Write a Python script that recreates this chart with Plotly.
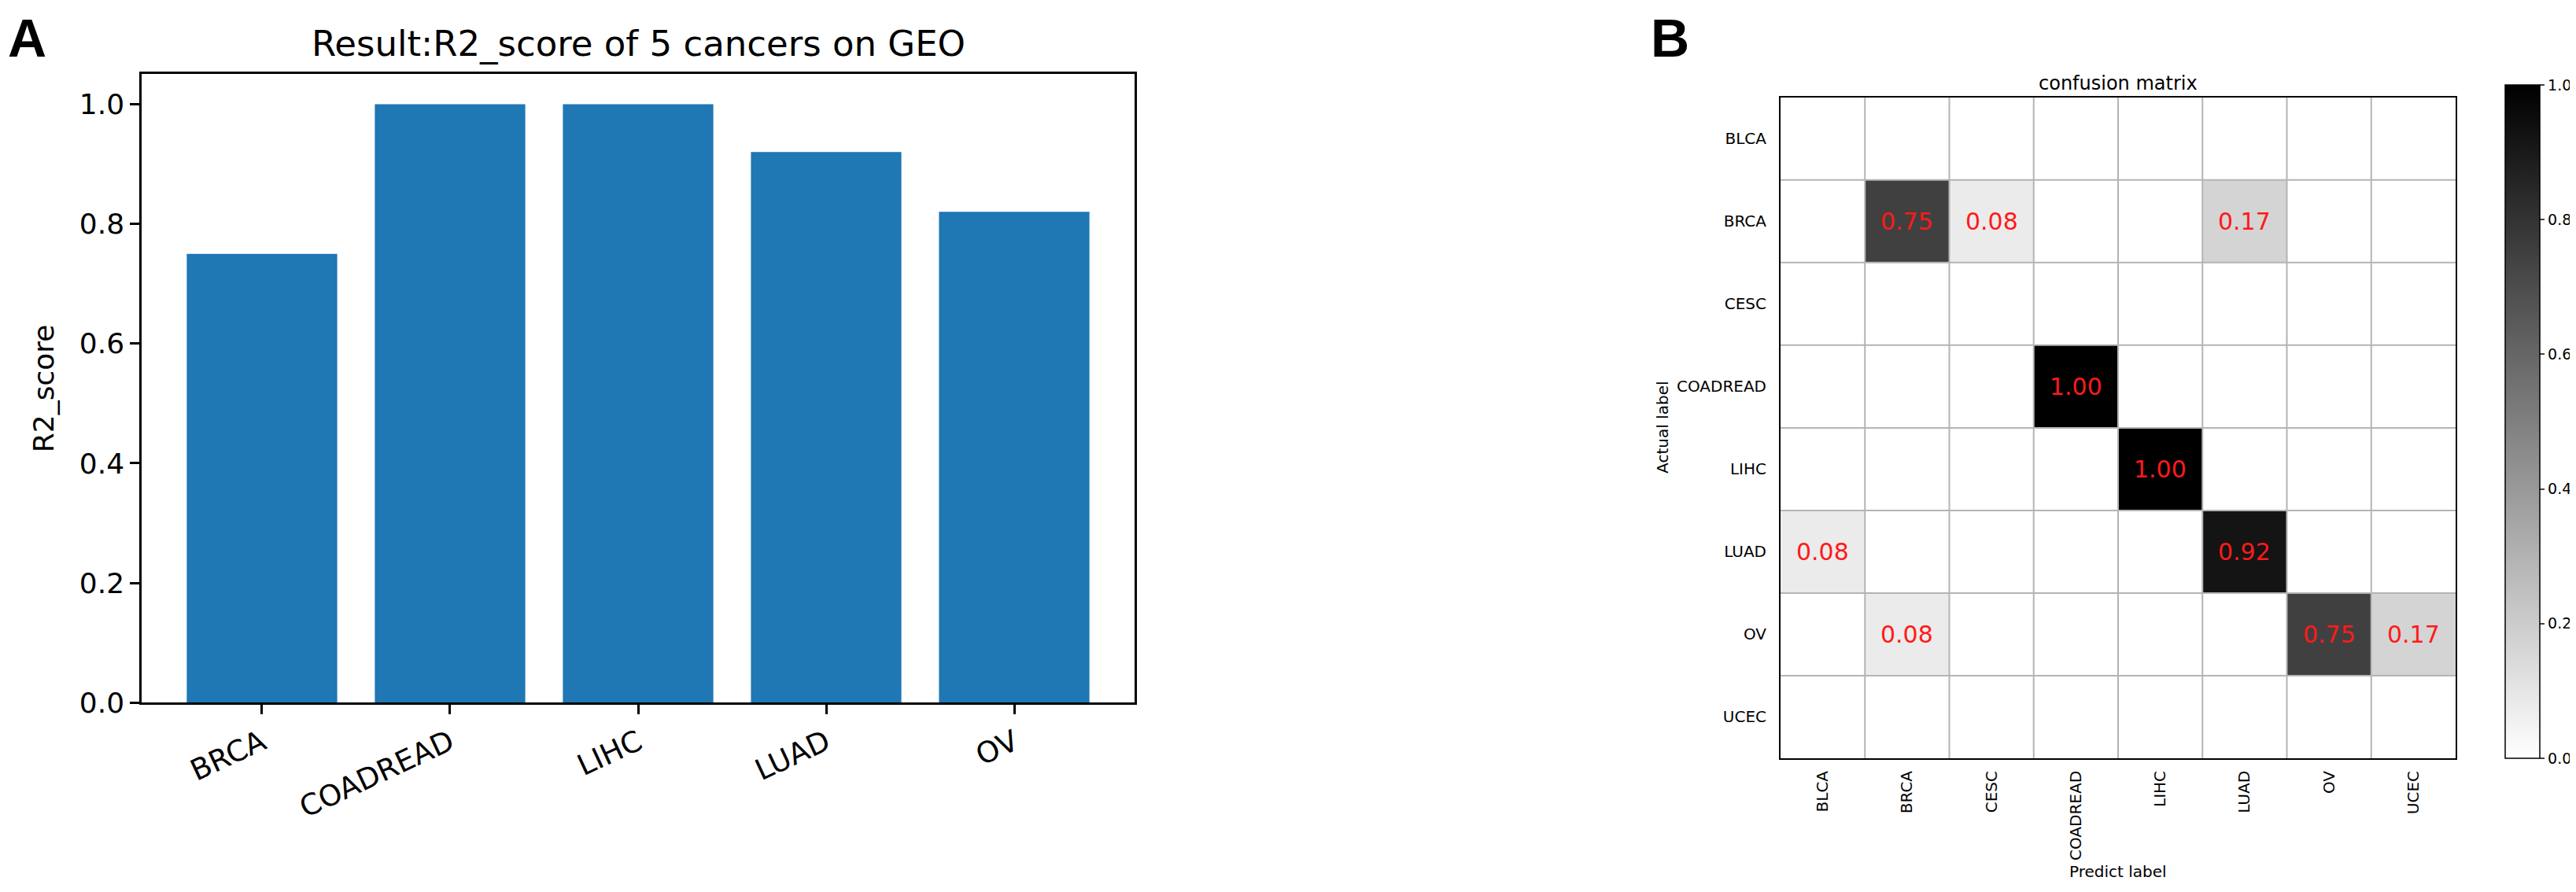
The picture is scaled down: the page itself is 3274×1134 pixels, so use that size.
import plotly.graph_objects as go

# panel A data
cancers = ["BRCA", "COADREAD", "LIHC", "LUAD", "OV"]
r2_scores = [0.75, 1.00, 1.00, 0.92, 0.82]

# panel B data (rows = actual, cols = predicted)
labels = ["BLCA", "BRCA", "CESC", "COADREAD", "LIHC", "LUAD", "OV", "UCEC"]
row_blca = [0, 0, 0, 0, 0, 0, 0, 0]
row_brca = [0, 0.75, 0.08, 0, 0, 0.17, 0, 0]
row_cesc = [0, 0, 0, 0, 0, 0, 0, 0]
row_coadread = [0, 0, 0, 1.00, 0, 0, 0, 0]
row_lihc = [0, 0, 0, 0, 1.00, 0, 0, 0]
row_luad = [0.08, 0, 0, 0, 0, 0.92, 0, 0]
row_ov = [0, 0.08, 0, 0, 0, 0, 0.75, 0.17]
row_ucec = [0, 0, 0, 0, 0, 0, 0, 0]
cm = [row_blca, row_brca, row_cesc, row_coadread, row_lihc, row_luad, row_ov, row_ucec]

W, H = 3274, 1134
FONT = "DejaVu Sans"

fig = go.Figure()

# bar chart
fig.add_trace(go.Bar(
    x=list(range(len(cancers))), y=r2_scores,
    width=0.8, marker_color="#1f77b4", marker_line_width=0,
    xaxis="x", yaxis="y", showlegend=False, hoverinfo="skip",
))

# confusion matrix
idx = list(range(len(labels)))
fig.add_trace(go.Heatmap(
    z=cm, x=idx, y=idx,
    zmin=0, zmax=1,
    colorscale=[[0, "#ffffff"], [1, "#000000"]],
    xaxis="x2", yaxis="y2", hoverinfo="skip",
    colorbar=dict(
        x=3176 / W, xanchor="left", xpad=0,
        y=(H - 974) / H, yanchor="bottom", ypad=0,
        lenmode="pixels", len=856, thickness=44,
        outlinewidth=1.5, outlinecolor="black",
        ticks="outside", ticklen=6, tickwidth=1.5,
        tickvals=[0, 0.2, 0.4, 0.6, 0.8, 1.0],
        ticktext=["0.0", "0.2", "0.4", "0.6", "0.8", "1.0"],
        tickfont=dict(family=FONT, size=19, color="black"),
    ),
))

# cell text for non-zero values
annotations = []
for i, row in enumerate(cm):
    for j, v in enumerate(row):
        if v > 0:
            annotations.append(dict(
                x=j, y=i, xref="x2", yref="y2", text=f"{v:.2f}", showarrow=False,
                font=dict(family=FONT, size=30, color="#ff1a1a"),
            ))

annotations += [
    dict(x=0, y=1, xref="paper", yref="paper", xanchor="left", yanchor="top",
         text="<b>A</b>", showarrow=False,
         font=dict(family="Liberation Sans, Arial", size=68, color="black")),
    dict(x=2098 / W, y=1, xref="paper", yref="paper", xanchor="left", yanchor="top",
         xshift=-10, text="<b>B</b>", showarrow=False,
         font=dict(family="Liberation Sans, Arial", size=68, color="black")),
    dict(x=803 / W, y=1 - 48 / H, xref="paper", yref="paper", xanchor="center", yanchor="middle",
         text="Result:R2_score of 5 cancers on GEO", showarrow=False,
         font=dict(family=FONT, size=45, color="black")),
    dict(x=2684 / W, y=1 - 100 / H, xref="paper", yref="paper", xanchor="center", yanchor="middle",
         text="confusion matrix", showarrow=False,
         font=dict(family=FONT, size=24, color="black")),
    dict(x=2105 / W, y=1 - 546 / H, xref="paper", yref="paper", xanchor="center", yanchor="middle",
         text="Actual label", textangle=-90, showarrow=False,
         font=dict(family=FONT, size=20, color="black")),
    dict(x=2684 / W, y=1 - 1121 / H, xref="paper", yref="paper", xanchor="center", yanchor="middle",
         text="Predict label", showarrow=False,
         font=dict(family=FONT, size=20, color="black")),
]

# cell borders of the confusion matrix
shapes = []
for k in idx[:-1]:
    shapes.append(dict(type="line", xref="x2", yref="y2", x0=k + 0.5, x1=k + 0.5, y0=-0.5, y1=7.5,
                       line=dict(color="#b4b4b4", width=2), layer="above"))
    shapes.append(dict(type="line", xref="x2", yref="y2", x0=-0.5, x1=7.5, y0=k + 0.5, y1=k + 0.5,
                       line=dict(color="#b4b4b4", width=2), layer="above"))

fig.update_layout(
    width=W, height=H,
    margin=dict(l=0, r=0, t=0, b=0),
    paper_bgcolor="white", plot_bgcolor="white",
    font=dict(family=FONT, color="black"),
    annotations=annotations,
    shapes=shapes,
    xaxis=dict(
        domain=[172 / W, 1434 / W], range=[-0.64, 4.64],
        tickvals=list(range(len(cancers))), ticktext=cancers, tickangle=-25,
        tickfont=dict(family=FONT, size=37),
        ticks="outside", ticklen=12, tickwidth=2.5, tickcolor="black",
        showline=True, linecolor="black", linewidth=2.5, mirror=True,
        showgrid=False, zeroline=False, fixedrange=True,
    ),
    yaxis=dict(
        domain=[(H - 902) / H, (H - 88) / H], range=[0, 1.05],
        tickvals=[0, 0.2, 0.4, 0.6, 0.8, 1.0],
        ticktext=["0.0", "0.2", "0.4", "0.6", "0.8", "1.0"],
        tickfont=dict(family=FONT, size=36),
        ticks="outside", ticklen=12, tickwidth=2.5, tickcolor="black",
        showline=True, linecolor="black", linewidth=2.5, mirror=True,
        showgrid=False, zeroline=False,
        title=dict(text="R2_score", standoff=22, font=dict(family=FONT, size=36)),
    ),
    xaxis2=dict(
        domain=[2255 / W, 3113 / W], range=[-0.5, 7.5], anchor="y2",
        tickvals=idx, ticktext=labels, tickangle=-90,
        tickfont=dict(family=FONT, size=20),
        ticks="outside", ticklen=6, tickcolor="rgba(0,0,0,0)",
        showline=True, linecolor="black", linewidth=2, mirror=True,
        showgrid=False, zeroline=False, layer="above traces",
    ),
    yaxis2=dict(
        domain=[(H - 974) / H, (H - 118) / H], range=[7.5, -0.5], anchor="x2",
        tickvals=idx, ticktext=labels,
        tickfont=dict(family=FONT, size=20),
        ticks="outside", ticklen=12, tickcolor="rgba(0,0,0,0)",
        showline=True, linecolor="black", linewidth=2, mirror=True,
        showgrid=False, zeroline=False, layer="above traces",
    ),
)

fig.write_html("out.html")
